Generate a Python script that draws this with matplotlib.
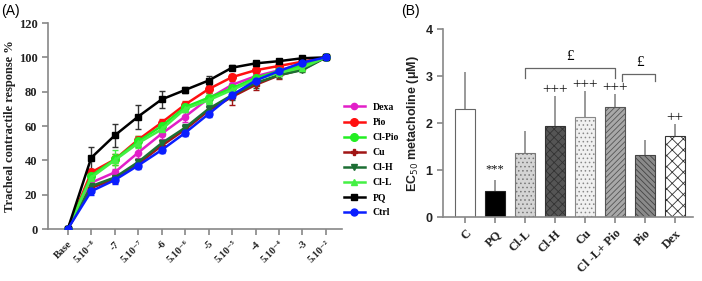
import matplotlib
matplotlib.use("Agg")
import matplotlib.pyplot as plt
import numpy as np

# ---------------- Panel A data ----------------
x_labels = ["Base", "5.10⁻⁸", "-7", "5.10⁻⁷", "-6", "5.10⁻⁶", "-5", "5.10⁻⁵",
            "-4", "5.10⁻⁴", "-3", "5.10⁻²"]
series_names = ["Dexa", "Pio", "Cl-Pio", "Cu", "Cl-H", "Cl-L", "PQ", "Ctrl"]
dexa   = [0, 27, 33, 44.5, 55.5, 65.5, 76, 84, 89, 92.5, 96, 100]
pio    = [0, 33, 40.5, 52, 62, 72.5, 81.5, 88.5, 92.5, 95, 97.5, 100]
cl_pio = [0, 31, 40.5, 51, 60, 71, 76.5, 82, 88, 92, 95, 100]
cu     = [0, 24, 29, 38, 48.5, 58, 69, 77, 84, 89.5, 93, 100]
cl_h   = [0, 25, 30, 39, 50, 59, 70, 78, 85, 89.7, 92.6, 100]
cl_l   = [0, 30, 40, 50, 58, 70, 75, 81, 87, 91, 94, 100]
pq     = [0, 41.5, 54.5, 65.5, 75.5, 81, 86.5, 94, 96.5, 97.8, 99.5, 100]
ctrl   = [0, 22, 28.5, 37, 46, 56, 67, 78, 86.5, 92, 97, 100]

err_dexa   = [0, 2, 2, 3, 3, 3, 3, 3, 2, 2, 1, 0]
err_pio    = [0, 2, 3, 2, 2, 2, 2, 2, 2, 1, 1, 0]
err_cl_pio = [0, 2, 3, 3, 3, 3, 3, 2, 2, 1, 1, 0]
err_cu     = [0, 2, 2, 2, 2, 2, 2, 5, 3, 2, 1, 0]
err_cl_h   = [0, 2, 2, 2, 2, 2, 2, 3, 3, 2, 1, 0]
err_cl_l   = [0, 2, 6, 3, 4, 2, 2, 3, 3, 2, 1, 0]
err_pq     = [0, 6.5, 6.5, 7, 5, 2, 2.5, 1.5, 1, 1, 1, 0]
err_ctrl   = [0, 2, 2, 2, 2, 2, 2, 2, 2, 1, 1, 0]

# ---------------- Panel B data ----------------
b_cats = ["C", "PQ", "Cl-L", "Cl-H", "Cu", "Cl -L+ Pio", "Pio", "Dex"]
b_vals = [2.31, 0.55, 1.36, 1.94, 2.14, 2.35, 1.32, 1.73]
b_errs = [0.77, 0.25, 0.48, 0.63, 0.55, 0.27, 0.33, 0.25]
b_marks = ["", "***", "", "+++", "+++", "+++", "", "++"]

serif = ["Liberation Serif", "DejaVu Serif"]
sans = ["Liberation Sans", "DejaVu Sans"]

fig = plt.figure(figsize=(7.02, 2.81), dpi=100)

# ======== Panel A ========
axA = fig.add_axes([0.068, 0.185, 0.419, 0.733])
xs = np.arange(len(x_labels))
styles = [
    (dexa, err_dexa, "#e21fc8", "o", 4.5, "Dexa"),
    (pio, err_pio, "#ff1010", "o", 5.5, "Pio"),
    (cl_pio, err_cl_pio, "#22ee22", "o", 5.5, "Cl-Pio"),
    (cu, err_cu, "#a01515", "P", 4.0, "Cu"),
    (cl_h, err_cl_h, "#1c6e34", "v", 4.5, "Cl-H"),
    (cl_l, err_cl_l, "#44f044", "^", 4.5, "Cl-L"),
    (pq, err_pq, "#000000", "s", 5.0, "PQ"),
    (ctrl, err_ctrl, "#0a1eff", "o", 5.0, "Ctrl"),
]
handles = []
for vals, errs, col, mk, ms, name in styles:
    errcol = "#333333" if name == "PQ" else col
    axA.errorbar(xs, vals, yerr=errs, fmt="none", ecolor=errcol, elinewidth=1.0,
                 capsize=2.5, capthick=1.0, zorder=2)
    h, = axA.plot(xs, vals, color=col, marker=mk, markersize=ms, linewidth=1.8,
                  label=name, zorder=3)
    handles.append(h)

axA.set_xlim(-0.853, 11.68)
axA.set_ylim(0, 120)
axA.set_yticks([0, 20, 40, 60, 80, 100, 120])
axA.set_xticks(xs)
axA.set_xticklabels(x_labels, rotation=45, ha="right", rotation_mode="anchor",
                    family=serif, fontweight="bold", fontsize=7.5)
for lab in axA.get_yticklabels():
    lab.set_family(serif)
    lab.set_fontweight("bold")
    lab.set_fontsize(9)
for s in ["top", "right"]:
    axA.spines[s].set_visible(False)
for s in ["left", "bottom"]:
    axA.spines[s].set_color("#888888")
    axA.spines[s].set_linewidth(1.2)
axA.tick_params(axis="both", colors="#888888", width=1.2, length=4, labelcolor="#222222")
axA.set_ylabel("Tracheal contractile response %", family=serif, fontweight="bold",
               fontsize=9, color="#222222", labelpad=2)
leg = fig.legend(handles=handles, loc="upper left", bbox_to_anchor=(0.477, 0.665),
                 frameon=False, prop={"family": serif, "weight": "bold", "size": 7},
                 handlelength=2.2, labelspacing=0.62, handletextpad=0.8)
fig.text(0.002, 0.985, "(A)", family=sans, fontsize=10, va="top", ha="left")

# ======== Panel B ========
axB = fig.add_axes([0.631, 0.227, 0.356, 0.669])
bx = np.arange(len(b_cats))
faces = ["white", "black", "#d4d4d4", "#555555", "#f0f0f0", "#a8a8a8", "#8a8a8a", "white"]
hatches = ["", "", "....", "xxxx", "....", "//////", "\\\\\\\\\\\\", "xxx"]
edges = ["#666666", "#222222", "#777777", "#333333", "#888888", "#555555", "#444444", "#333333"]
plt.rcParams["hatch.linewidth"] = 0.6
for i in range(len(b_cats)):
    axB.bar(bx[i], b_vals[i], width=0.67, color=faces[i], edgecolor=edges[i],
            hatch=hatches[i], linewidth=0.8, zorder=2)
axB.errorbar(bx, b_vals, yerr=[np.zeros(len(b_vals)), b_errs], fmt="none",
             ecolor="#888888", elinewidth=1.2, capsize=0, zorder=1)
for i in range(len(b_cats)):
    if b_marks[i]:
        yoff = 0.1 if b_marks[i] == "***" else 0.0
        axB.text(bx[i], b_vals[i] + b_errs[i] + yoff, b_marks[i], ha="center",
                 va="bottom", fontsize=11 if "+" in b_marks[i] else 9,
                 family=serif, color="#111111")
# brackets
axB.plot([2, 2, 5, 5], [2.97, 3.18, 3.18, 2.97], color="#666666", lw=0.9)
axB.text(3.5, 3.28, "£", ha="center", va="bottom", fontsize=11, family=serif)
axB.plot([5.25, 5.25, 6.35, 6.35], [2.9, 3.05, 3.05, 2.9], color="#666666", lw=0.9)
axB.text(5.85, 3.15, "£", ha="center", va="bottom", fontsize=11, family=serif)

axB.set_xlim(-0.74, 7.6)
axB.set_ylim(0, 4)
axB.set_yticks([0, 1, 2, 3, 4])
axB.set_xticks(bx)
axB.set_xticklabels(b_cats, rotation=45, ha="right", rotation_mode="anchor",
                    family=serif, fontweight="bold", fontsize=9)
for lab in axB.get_yticklabels():
    lab.set_family(sans)
    lab.set_fontweight("bold")
    lab.set_fontsize(9)
for s in ["top", "right"]:
    axB.spines[s].set_visible(False)
for s in ["left", "bottom"]:
    axB.spines[s].set_color("#888888")
    axB.spines[s].set_linewidth(1.2)
axB.tick_params(axis="both", colors="#888888", width=1.2, length=4, labelcolor="#222222")
axB.set_ylabel("EC$_{50}$ metacholine (μM)", family=sans, fontweight="bold",
               fontsize=9, color="#222222", labelpad=3)
fig.text(0.572, 0.985, "(B)", family=sans, fontsize=10, va="top", ha="left")

fig.savefig("out.png", dpi=100)
